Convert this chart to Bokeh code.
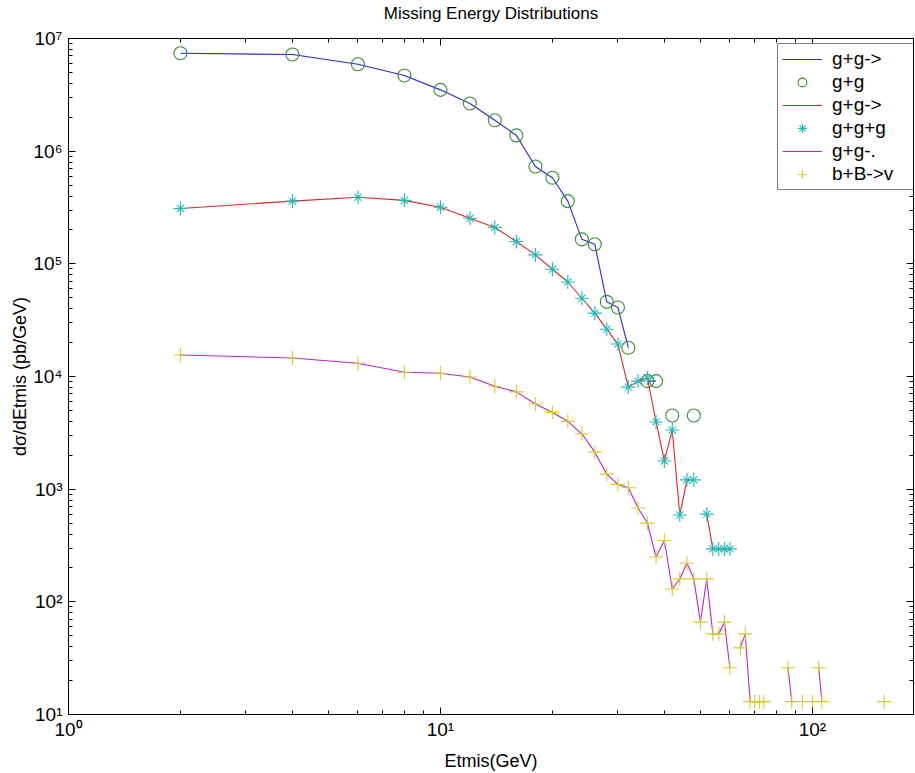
from bokeh.plotting import figure
from bokeh.models import FixedTicker, Legend, LegendItem, LogAxis
from bokeh.embed import file_html
from bokeh.resources import INLINE

nan = float("nan")

# ---- data ----
gg_x = [2, 4, 6, 8, 10, 12, 14, 16, 18, 20, 22, 24, 26, 28, 30, 32, 34, 36, 38, 40, 42, 44, 46, 48]
gg_y = [7.4e6, 7.2e6, 5.9e6, 4.7e6, 3.5e6, 2.65e6, 1.88e6, 1.38e6, 7.3e5, 5.8e5, 3.6e5, 1.65e5,
        1.49e5, 4.6e4, 4.1e4, 1.8e4, nan, 9.1e3, 9.1e3, nan, 4.5e3, nan, nan, 4.5e3]

ggg_x = [2, 4, 6, 8, 10, 12, 14, 16, 18, 20, 22, 24, 26, 28, 30, 32, 34, 36, 38, 40,
         42, 44, 46, 48, 50, 52, 54, 56, 58, 60]
ggg_y = [3.1e5, 3.6e5, 3.9e5, 3.66e5, 3.18e5, 2.54e5, 2.1e5, 1.58e5, 1.2e5, 8.95e4,
         6.9e4, 4.95e4, 3.65e4, 2.63e4, 1.94e4, 8.05e3, 9.1e3, 9.7e3, 3.95e3, 1.78e3,
         3.35e3, 590, 1.21e3, 1.21e3, nan, 600, 295, 295, 295, 295]

bb_x = [2, 4, 6, 8, 10, 12, 14, 16, 18, 20, 22, 24, 26, 28, 30, 32, 34, 36, 38, 40,
        42, 44, 46, 48, 50, 52, 54, 56, 58, 60, 62, 64, 66, 68, 70, 72, 74, 76,
        86, 88, 90, 94, 96, 100, 102, 104, 106, 108, 156]
bb_y = [1.55e4, 1.46e4, 1.31e4, 1.09e4, 1.07e4, 9.9e3, 8.2e3, 7.3e3, 5.7e3, 4.8e3,
        4.0e3, 3.1e3, 2.13e3, 1.36e3, 1.1e3, 1.03e3, 680, 500, 250, 350,
        130, 160, 220, 160, 66, 160, 52, 52, 66, 26, nan, 39, 52, 13, 13, 13, 13, nan,
        26, 13, nan, 13, nan, 13, nan, 26, 13, nan, 13]

x_tick_values = [1, 10, 100]
x_tick_labels = ["10\u2070", "10\u00b9", "10\u00b2"]
y_tick_values = [1e1, 1e2, 1e3, 1e4, 1e5, 1e6, 1e7]
y_tick_labels = ["10\u00b9", "10\u00b2", "10\u00b3", "10\u2074", "10\u2075", "10\u2076", "10\u2077"]

legend_labels = ["g+g->", "g+g", "g+g->", "g+g+g", "g+g-.", "b+B->v"]
title_text = "Missing Energy Distributions"

FONT = "Liberation Sans"
BLUE = "#2a2acc"
GREEN = "#3a8a3a"
RED = "#d42a2a"
CYAN = "#22b8b8"
MAGENTA = "#b42ac4"
YELLOW = "#d6cc2a"

x_minor = [k * d for d in (1, 10) for k in range(2, 10)]
y_minor = [k * 10 ** n for n in range(1, 7) for k in range(2, 10)]

p = figure(width=915, height=773, x_axis_type="log", y_axis_type="log",
           x_range=(1, 187), y_range=(10, 1e7),
           output_backend="svg", toolbar_location=None,
           min_border_left=68, min_border_right=2, min_border_top=37, min_border_bottom=58)

p.grid.visible = False
p.outline_line_color = "black"
p.outline_line_width = 1
p.background_fill_color = "white"
p.border_fill_color = "white"


def style_axis(ax, ticks, minor, labels, show_labels=True):
    ax.ticker = FixedTicker(ticks=ticks, minor_ticks=minor)
    ax.axis_line_color = "black"
    ax.major_tick_in = 7
    ax.major_tick_out = 0
    ax.minor_tick_in = 4
    ax.minor_tick_out = 0
    ax.major_tick_line_color = "black"
    ax.minor_tick_line_color = "black"
    ax.axis_label_text_font = FONT
    ax.axis_label_text_font_style = "normal"
    ax.axis_label_text_color = "black"
    if show_labels:
        ax.major_label_overrides = dict(zip(ticks, labels))
        ax.major_label_text_font = FONT
        ax.major_label_text_font_size = "19px"
        ax.major_label_text_color = "black"
        ax.axis_label_text_font_size = "18px"
    else:
        ax.major_label_text_font_size = "1px"
        ax.major_label_text_alpha = 0
        ax.major_label_standoff = 0


style_axis(p.xaxis[0], x_tick_values, x_minor, x_tick_labels)
style_axis(p.yaxis[0], y_tick_values, y_minor, y_tick_labels)
p.xaxis[0].axis_label = "Etmis(GeV)"
p.yaxis[0].axis_label = "d\u03c3/dEtmis (pb/GeV)"
p.xaxis[0].major_label_standoff = 4
p.xaxis[0].axis_label_standoff = 8
p.yaxis[0].major_label_standoff = 6
p.yaxis[0].axis_label_standoff = 0

# top axis: ticks only, and it carries the chart title above the frame
top_ax = LogAxis()
style_axis(top_ax, x_tick_values, x_minor, x_tick_labels, show_labels=False)
top_ax.axis_label = title_text
top_ax.axis_label_text_font_size = "17px"
top_ax.axis_label_standoff = 16
p.add_layout(top_ax, "above")

right_ax = LogAxis()
style_axis(right_ax, y_tick_values, y_minor, y_tick_labels, show_labels=False)
p.add_layout(right_ax, "right")

r_blue = p.line(gg_x, gg_y, line_color=BLUE, line_width=1.1)
r_circ = p.scatter(gg_x, gg_y, marker="circle", size=13, fill_alpha=0,
                   line_color=GREEN, line_width=1.1)
r_red = p.line(ggg_x, ggg_y, line_color=RED, line_width=1.1)
r_star1 = p.scatter(ggg_x, ggg_y, marker="cross", size=14, line_color=CYAN, line_width=1.1)
r_star2 = p.scatter(ggg_x, ggg_y, marker="x", size=10, line_color=CYAN, line_width=1.1)
r_mag = p.line(bb_x, bb_y, line_color=MAGENTA, line_width=1.1)
r_plus = p.scatter(bb_x, bb_y, marker="cross", size=14, line_color=YELLOW, line_width=1.1)

legend = Legend(items=[
    LegendItem(label=legend_labels[0], renderers=[r_blue]),
    LegendItem(label=legend_labels[1], renderers=[r_circ]),
    LegendItem(label=legend_labels[2], renderers=[r_red]),
    LegendItem(label=legend_labels[3], renderers=[r_star1, r_star2]),
    LegendItem(label=legend_labels[4], renderers=[r_mag]),
    LegendItem(label=legend_labels[5], renderers=[r_plus]),
], location=(709, 524))
legend.margin = 0
legend.padding = 4
legend.spacing = 1
legend.glyph_width = 40
legend.glyph_height = 22
legend.label_height = 22
legend.label_width = 130
legend.label_standoff = 10
legend.label_text_font = FONT
legend.label_text_font_size = "19px"
legend.label_text_color = "black"
legend.border_line_color = "black"
legend.border_line_width = 1
legend.background_fill_color = "white"
legend.background_fill_alpha = 1.0
p.add_layout(legend, "center")

open("out.html", "w").write(file_html(p, INLINE))
